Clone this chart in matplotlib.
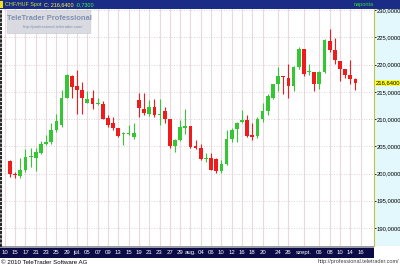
import matplotlib
matplotlib.use("Agg")
import matplotlib.pyplot as plt
from matplotlib.patches import Rectangle, FancyBboxPatch

plt.rcParams["font.family"] = ["Liberation Sans", "DejaVu Sans"]

# CHF/HUF daily candles, one per trading slot
slots = list(range(68))
opens = [202.25, 199.98, 199.55, 200.6, 203.05, 202.86, 203.84, 205.5, 205.8, 207.95,
         209.0, 213.9, 217.9, 216.1, 215.3, 213.0, 213.8, 212.7, 212.85, 210.2,
         209.2, 208.3, 207.2, 207.3, 206.7, 213.47, 211.9, 211.0, 212.2, 210.7,
         211.4, 210.1, 205.1, 206.1, 208.4, 208.7, 205.0, 204.6, 202.6, 202.9,
         202.7, 200.4, 201.8, 206.3, 208.1, 209.5, 209.8, 207.0, 206.9, 210.1,
         211.4, 213.9, 216.4, 217.85, 217.5, 216.1, 219.5, 222.8, 218.6, 218.6,
         216.4, 218.6, 224.3, 222.6, 220.6, 219.1, 218.1, 217.35]
highs = [202.43, 200.3, 202.86, 204.58, 204.7, 204.6, 205.93, 207.0, 209.2, 211.0,
         215.3, 218.25, 218.07, 219.0, 216.8, 215.1, 215.3, 213.9, 213.3, 210.7,
         210.4, 208.3, 207.6, 209.0, 209.2, 214.7, 214.8, 213.5, 213.65, 213.65,
         212.2, 210.1, 206.4, 209.8, 211.9, 208.7, 206.1, 205.5, 203.7, 203.7,
         202.9, 202.4, 207.95, 208.3, 209.5, 211.6, 210.7, 209.2, 210.4, 213.0,
         214.55, 216.4, 219.5, 217.85, 220.15, 219.8, 223.3, 222.8, 220.15, 218.6,
         218.9, 224.7, 226.55, 224.8, 220.6, 219.2, 220.8, 217.5]
lows = [199.37, 199.2, 199.24, 200.3, 201.2, 200.4, 203.66, 205.3, 205.5, 207.6,
        208.6, 213.8, 213.8, 211.0, 211.0, 213.0, 211.9, 212.5, 210.0, 208.6,
        208.0, 206.7, 205.3, 207.0, 206.4, 210.4, 210.7, 210.6, 210.4, 208.9,
        209.2, 204.7, 204.0, 205.9, 207.3, 204.6, 204.5, 202.4, 202.1, 200.6,
        200.1, 200.1, 201.6, 205.8, 205.8, 209.2, 206.7, 206.1, 206.5, 209.5,
        210.8, 213.6, 215.2, 214.55, 213.9, 215.2, 219.2, 217.85, 218.0, 215.2,
        215.6, 218.5, 222.3, 220.15, 217.0, 217.6, 216.4, 215.25]
closes = [199.98, 199.67, 200.6, 203.05, 203.3, 203.97, 205.5, 205.8, 207.95, 209.6,
          213.9, 218.07, 215.9, 215.3, 213.9, 213.65, 212.85, 213.0, 210.1, 208.9,
          208.3, 206.9, 207.5, 207.5, 207.5, 212.06, 211.2, 212.2, 210.7, 211.0,
          210.1, 205.07, 206.1, 208.56, 208.7, 204.9, 204.6, 202.6, 202.9, 200.6,
          200.4, 201.8, 206.3, 207.95, 209.2, 209.8, 206.9, 206.7, 210.1, 211.4,
          214.2, 216.4, 217.85, 217.7, 216.1, 219.5, 222.8, 218.3, 218.7, 216.4,
          218.6, 224.5, 222.6, 220.8, 219.2, 218.1, 217.35, 216.64]

tick_pos = [-1, 1, 3, 5, 7, 9, 11, 13, 15, 17, 19, 21, 23, 25, 27, 29, 31, 33, 35,
            37, 39, 41, 43, 45, 47, 49, 52, 54, 57, 60, 62, 64, 66, 68]
tick_lab = ["10", "15", "17", "21", "23", "25", "29", "júl.", "05", "07", "09", "13",
            "15", "19", "21", "23", "27", "29", "aug.", "04", "06", "10", "12", "16",
            "18", "20", "24", "26", "szept.", "06", "08", "10", "14", "16"]
y_ticks = [190, 195, 200, 205, 210, 215, 220, 225, 230]
last_close = closes[-1]
change = -0.73

UP, DOWN = "#35c535", "#ee1c1c"

W, H = 400, 266
fig = plt.figure(figsize=(4, 2.66), dpi=100)


def px_rect(x0, y0, x1, y1, color, z=-5):
    # rectangle in pixel coords (y from top)
    fig.add_artist(Rectangle((x0 / W, 1 - y1 / H), (x1 - x0) / W, (y1 - y0) / H,
                             transform=fig.transFigure, color=color, lw=0, zorder=z))


def hu(v):
    return f"{v:.4f}".replace(".", ",")


# frame pieces
px_rect(374, 9, 400, 246, "#e2f8fc")
px_rect(0, 245, 374, 248, "#9a9aa6")
px_rect(0, 248, 374, 258, "#0b0b46")
px_rect(0, 0, 400, 9, "#1b2c86", z=5)
px_rect(0, 1, 3, 8, "#f0e020", z=6)

ax = fig.add_axes([1 / W, 1 - 246 / H, 373 / W, 237 / H])
ax.set_facecolor("white")

# grid
for p in tick_pos:
    ax.axvline(p, color="#eadadf", lw=0.8, zorder=0)
for v in y_ticks:
    ax.axhline(v, color="#d8c2ca", lw=0.6, ls=(0, (1, 2)), zorder=0)

# candles
colors = [UP if c >= o else DOWN for o, c in zip(opens, closes)]
ax.vlines(slots, lows, highs, colors=colors, lw=0.8, zorder=2)
bottoms = [min(o, c) for o, c in zip(opens, closes)]
heights = [max(abs(c - o), 0.18) for o, c in zip(opens, closes)]
ax.bar(slots, heights, bottom=bottoms, width=0.72, color=colors, lw=0, zorder=3)

ax.set_xlim(-1.75, 70.6)
ax.set_ylim(186.7, 230.2)

ax.set_xticks(tick_pos)
ax.set_xticklabels(tick_lab)
ax.tick_params(axis="x", length=0, pad=3.2, labelsize=4.3, colors="white")

ax.yaxis.tick_right()
ax.set_yticks(y_ticks)
ax.set_yticklabels([hu(v) for v in y_ticks])
ax.tick_params(axis="y", length=1.5, width=0.6, pad=0.6, labelsize=4.2,
               colors="black")

for s in ["top", "bottom"]:
    ax.spines[s].set_visible(False)
ax.spines["left"].set_color("black")
ax.spines["left"].set_linestyle((0, (1, 1.5)))
ax.spines["left"].set_linewidth(1.2)
ax.spines["right"].set_color("#c8c040")
ax.spines["right"].set_linestyle((0, (1, 1)))
ax.spines["right"].set_linewidth(0.8)

# last price marker on the right scale
ax.annotate(hu(last_close), xy=(1, last_close),
            xycoords=("axes fraction", "data"), xytext=(1.0, 0),
            textcoords="offset points", va="center", ha="left", fontsize=4.2,
            color="black", annotation_clip=False,
            bbox=dict(boxstyle="square,pad=0.15", fc="#ffff30", ec="none"))

# watermark
fig.add_artist(FancyBboxPatch((8 / W, 1 - 33 / H), 82 / W, 22 / H,
                              boxstyle="round,pad=0.002", transform=fig.transFigure,
                              fc="#d6d8de", ec="#c8cad0", lw=0.5, alpha=0.9, zorder=4))
fig.text(49 / W, 1 - 19 / H, "TeleTrader Professional", ha="center", va="center",
         fontsize=5.4, fontweight="bold", color="#7f8fb2", zorder=6)
fig.text(53 / W, 1 - 27 / H, "http://professional.teletrader.com/", ha="center",
         va="center", fontsize=3, color="#7f8fb2", zorder=6)

# header texts, chained one after another
t1 = fig.text(5 / W, 1 - 4.5 / H, "CHF/HUF Spot", ha="left", va="center",
              fontsize=3.9, color="#c8e838", zorder=7)
t2 = fig.text(0, 0, f"C: {hu(last_close)}", fontsize=3.9, color="#ffff40", zorder=7,
              ha="left", va="center")
t3 = fig.text(0, 0, hu(change), fontsize=3.9, color="#40ff40", zorder=7,
              ha="left", va="center")
fig.canvas.draw()
r = fig.canvas.get_renderer()
bb1 = t1.get_window_extent(r)
t2.set_position(((bb1.x1 + 3) / W, 1 - 4.5 / H))
bb2 = t2.get_window_extent(r)
t3.set_position(((bb2.x1 + 2) / W, 1 - 4.5 / H))

fig.text(354 / W, 1 - 4.5 / H, "naponta", ha="left", va="center", fontsize=4.0,
         color="#30e030", zorder=7)

# footer
fig.text(1 / W, 1 - 262 / H, "© 2010 TeleTrader Software AG", ha="left", va="center",
         fontsize=4.4, color="black")
fig.text(399 / W, 1 - 262 / H, "http://professional.teletrader.com/", ha="right",
         va="center", fontsize=4, color="#404040")

fig.savefig("out.png", dpi=100)
